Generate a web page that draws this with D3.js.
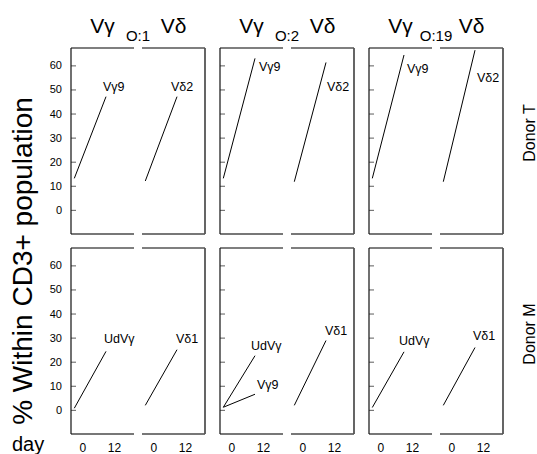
<!DOCTYPE html>
<html>
<head>
<meta charset="utf-8">
<script src="https://cdnjs.cloudflare.com/ajax/libs/d3/7.8.5/d3.min.js"></script>
<style>
  html, body { margin: 0; padding: 0; background: #fff; }
  svg { display: block; font-family: "Liberation Sans", Arial, sans-serif; }
</style>
</head>
<body>
<svg id="chart" width="537" height="454"></svg>
<script>
// ---------- data ----------
const columns = ["O:1", "O:2", "O:19"];
const donors = ["Donor T", "Donor M"];
const chains = ["Vγ", "Vδ"];
const days = [0, 12];
const yTicks = [0, 10, 20, 30, 40, 50, 60];

// % within CD3+ at day 0 and day 12, one pair per column (O:1, O:2, O:19)
const donorT_Vg9  = [[13.1, 47.0], [13.1, 62.9], [13.1, 64.3]];
const donorT_Vd2  = [[12.0, 47.0], [11.7, 61.2], [11.7, 66.3]];
const donorM_UdVg = [[0.7, 24.3], [1.1, 22.5], [1.0, 24.1]];
const donorM_Vg9  = [null, [1.1, 6.5], null];
const donorM_Vd1  = [[1.9, 25.0], [1.9, 28.8], [1.9, 25.9]];

const seriesList = [
  { donor: "Donor T", chain: "Vγ", name: "Vγ9",  values: donorT_Vg9 },
  { donor: "Donor T", chain: "Vδ", name: "Vδ2",  values: donorT_Vd2 },
  { donor: "Donor M", chain: "Vγ", name: "UdVγ", values: donorM_UdVg },
  { donor: "Donor M", chain: "Vγ", name: "Vγ9",  values: donorM_Vg9 },
  { donor: "Donor M", chain: "Vδ", name: "Vδ1",  values: donorM_Vd1 }
];

// label offsets (layout only): [dx, dy] per series per column
const labelOffsets = {
  "Donor T|Vγ9":  [[-3, -6], [4, 13], [3, 18]],
  "Donor T|Vδ2":  [[-6, -6], [1, 29], [2, 32]],
  "Donor M|UdVγ": [[-2, -8], [-4, -6], [-5, -7]],
  "Donor M|Vγ9":  [null, [2, -5], null],
  "Donor M|Vδ1":  [[-1, -7], [-1, -6], [-2, -8]]
};

// ---------- layout ----------
const svg = d3.select("#chart");
const colScale = d3.scaleBand().domain(columns).range([71, 503]).paddingInner(15 / 149);
const rowScale = d3.scaleBand().domain(donors).range([48, 434]).paddingInner(0.07);
const subScale = d3.scaleBand().domain(chains).range([0, colScale.bandwidth()]).paddingInner(8 / 71);
const x = d3.scaleLinear().domain([-1.25, 22.6]).range([0, subScale.bandwidth()]);
const y = d3.scaleLinear().domain([-10, 67.2]).range([rowScale.bandwidth(), 0]);

const W = subScale.bandwidth();
const H = rowScale.bandwidth();
const frameColor = "#555";

donors.forEach(donor => {
  columns.forEach((col, ci) => {
    const g = svg.append("g")
      .attr("transform", `translate(${colScale(col)},${rowScale(donor)})`);

    chains.forEach(chain => {
      const sg = g.append("g").attr("transform", `translate(${subScale(chain)},0)`);
      // frame
      sg.append("line").attr("x1", 0).attr("x2", W).attr("y1", 0).attr("y2", 0)
        .attr("stroke", frameColor).attr("stroke-width", 1.5);
      sg.append("line").attr("x1", 0).attr("x2", W).attr("y1", H).attr("y2", H)
        .attr("stroke", "#777").attr("stroke-width", 2);
      if (chain === "Vγ") {
        // y axis with inward ticks
        const ax = sg.append("g").call(
          d3.axisLeft(y).tickValues(yTicks).tickSize(-5).tickPadding(9)
            .tickFormat(ci === 0 ? d3.format("d") : () => ""));
        ax.select(".domain").remove();
        ax.selectAll(".tick line").attr("stroke", "#777").attr("stroke-width", 1.2);
        ax.selectAll(".tick text").attr("font-size", 11).attr("fill", "#000")
          .attr("font-family", "Liberation Sans, Arial, sans-serif");
        sg.append("line").attr("x1", 0).attr("x2", 0).attr("y1", 0).attr("y2", H)
          .attr("stroke", "#111").attr("stroke-width", 1.2);
      } else {
        sg.append("line").attr("x1", W).attr("x2", W).attr("y1", 0).attr("y2", H)
          .attr("stroke", frameColor).attr("stroke-width", 1.8);
      }
      // x axis labels (day) in bottom row
      if (donor === donors[donors.length - 1]) {
        const xa = sg.append("g").attr("transform", `translate(0,${H})`)
          .call(d3.axisBottom(x).tickValues(days).tickSize(0).tickPadding(0));
        xa.select(".domain").remove();
        xa.selectAll(".tick text").attr("font-size", 12).attr("fill", "#000")
          .attr("dy", null).attr("y", 18).attr("dx", 8)
          .attr("font-family", "Liberation Sans, Arial, sans-serif");
      }
      // titles on top row
      if (donor === donors[0]) {
        sg.append("text").attr("x", W / 2).attr("y", -15)
          .attr("text-anchor", "middle").attr("font-size", 21).attr("fill", "#000")
          .text(chain);
      }
    });

    // column label centered on gap
    if (donor === donors[0]) {
      const gapCenter = (subScale("Vγ") + W + subScale("Vδ")) / 2;
      g.append("text").attr("x", gapCenter).attr("y", -7)
        .attr("text-anchor", "middle").attr("font-size", 15).attr("fill", "#000")
        .text(col);
    }

    // data lines
    seriesList.filter(s => s.donor === donor).forEach(s => {
      const v = s.values[ci];
      if (!v) return;
      const sg = g.append("g").attr("transform", `translate(${subScale(s.chain)},0)`);
      const pts = days.map((d, i) => [x(d), y(v[i])]);
      sg.append("path")
        .attr("d", d3.line()(pts))
        .attr("fill", "none").attr("stroke", "#000").attr("stroke-width", 1);
      const off = labelOffsets[s.donor + "|" + s.name][ci];
      const end = pts[pts.length - 1];
      sg.append("text")
        .attr("x", end[0] + off[0]).attr("y", end[1] + off[1])
        .attr("font-size", 12.5).attr("fill", "#000")
        .text(s.name);
    });
  });

  // donor label on the right
  const cy = rowScale(donor) + rowScale.bandwidth() / 2 - (donor === donors[0] ? 8 : 7);
  svg.append("text")
    .attr("transform", `translate(535,${cy}) rotate(-90)`)
    .attr("text-anchor", "middle").attr("font-size", 16).attr("fill", "#000")
    .text(donor);
});

// main y label
svg.append("text")
  .attr("transform", `translate(32,261) rotate(-90)`)
  .attr("text-anchor", "middle").attr("font-size", 28).attr("fill", "#000")
  .text("% Within CD3+ population");

// day label
svg.append("text").attr("x", 12).attr("y", 451)
  .attr("font-size", 20).attr("fill", "#000").text("day");
</script>
</body>
</html>
